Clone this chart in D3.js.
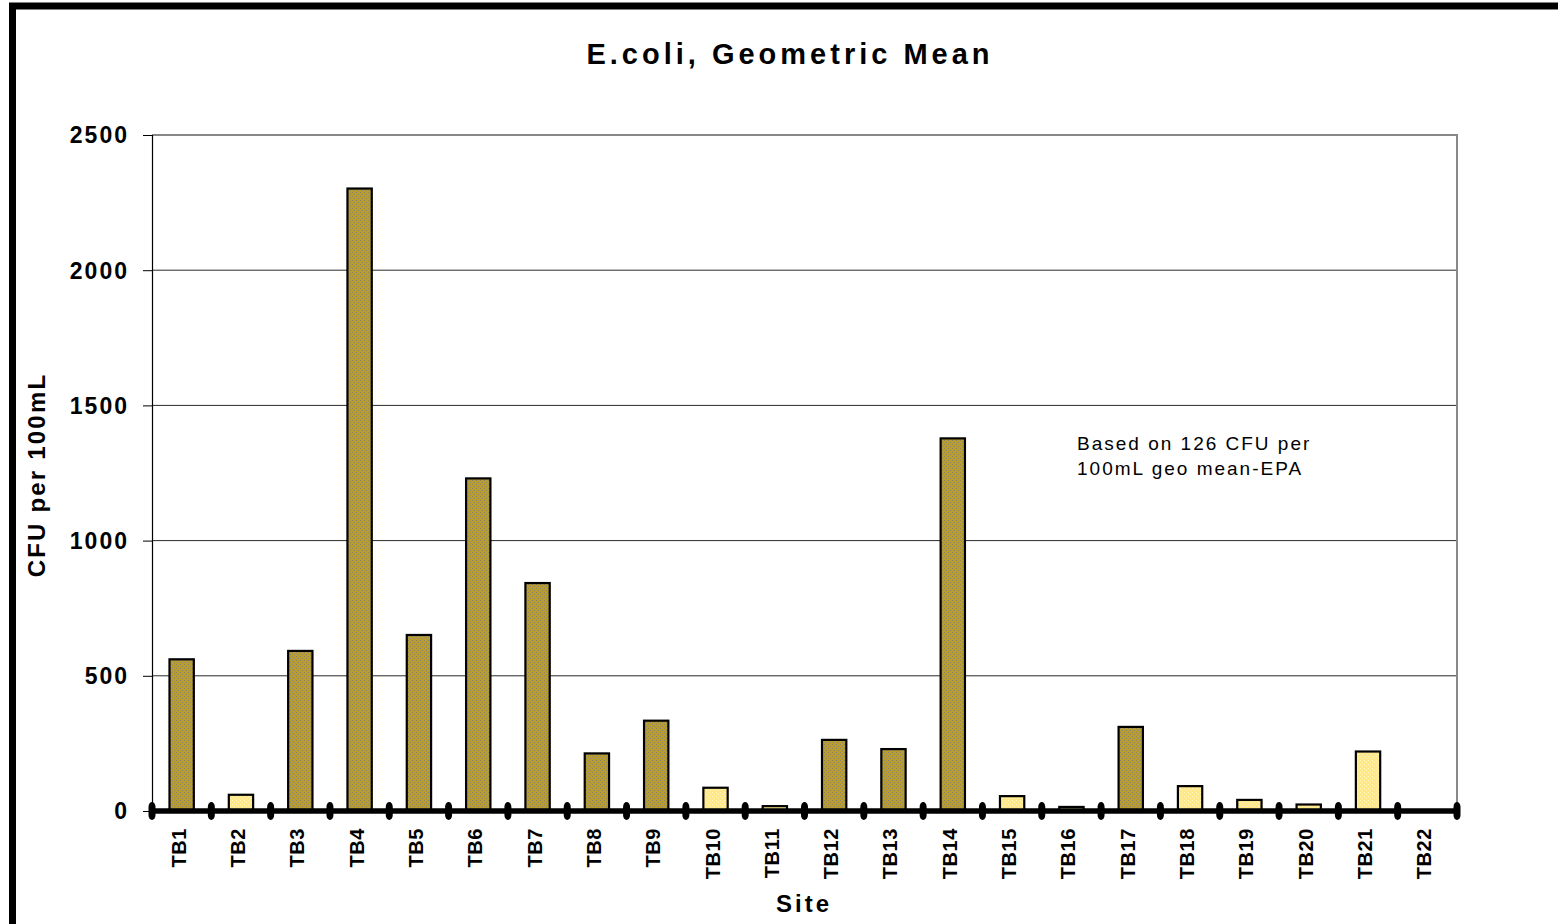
<!DOCTYPE html>
<html>
<head>
<meta charset="utf-8">
<script src="https://cdn.jsdelivr.net/npm/d3@7"></script>
<style>
  html, body { margin: 0; padding: 0; background: #fff; }
  svg { display: block; font-family: Arial, "Liberation Sans", sans-serif; }
</style>
</head>
<body>
<svg id="chart" width="1558" height="924"></svg>
<script>
// Sampling sites along the x axis
const sites = ["TB1","TB2","TB3","TB4","TB5","TB6","TB7","TB8","TB9","TB10","TB11",
               "TB12","TB13","TB14","TB15","TB16","TB17","TB18","TB19","TB20","TB21","TB22"];
// E. coli geometric mean, CFU per 100 mL (TB22 has no result)
const geoMeans = [561, 60, 592, 2302, 651, 1230, 843, 213, 334, 86, 18,
                  263, 229, 1378, 55, 15, 311, 92, 41, 24, 220, null];
// Whether a site exceeds the 126 CFU/100 mL EPA geometric mean criterion
const exceeds = [true, false, true, true, true, true, true, true, true, false, false,
                 true, true, true, false, false, true, false, false, false, false, false];
const yTicks = [0, 500, 1000, 1500, 2000, 2500];
const noteLines = ["Based on 126 CFU per", "100mL geo mean-EPA"];

const svg = d3.select("#chart");
const W = 1558, H = 924;
const plot = { left: 152, top: 135, right: 1457, bottom: 811 };

// Fill patterns for the two bar groups
const defs = svg.append("defs");
function dotPattern(id, base, dot) {
  const p = defs.append("pattern").attr("id", id)
    .attr("width", 4).attr("height", 4).attr("patternUnits", "userSpaceOnUse");
  p.append("rect").attr("width", 4).attr("height", 4).attr("fill", base);
  p.append("rect").attr("x", 0).attr("y", 0).attr("width", 1).attr("height", 1).attr("fill", dot);
  p.append("rect").attr("x", 2).attr("y", 2).attr("width", 1).attr("height", 1).attr("fill", dot);
}
dotPattern("darkFill", "#b89d2e", "#8c8670");
dotPattern("lightFill", "#ffe886", "#fff5c4");

// Outer frame
svg.append("rect").attr("x", 12.5).attr("y", 6).attr("width", W + 20).attr("height", H + 20)
  .attr("fill", "none").attr("stroke", "#000").attr("stroke-width", 7);

const x = d3.scaleBand().domain(sites).range([plot.left, plot.right]).paddingInner(0).paddingOuter(0);
const y = d3.scaleLinear().domain([0, 2500]).range([plot.bottom, plot.top]);

// Gridlines
svg.append("g").selectAll("line").data(yTicks.filter(t => t > 0 && t < 2500)).join("line")
  .attr("x1", plot.left).attr("x2", plot.right)
  .attr("y1", d => y(d)).attr("y2", d => y(d))
  .attr("stroke", "#2a2a2a").attr("stroke-width", 1);

// Plot-area border (top and right)
svg.append("path")
  .attr("d", `M${plot.left},${y(2500)}H${plot.right}V${plot.bottom}`)
  .attr("fill", "none").attr("stroke", "#888").attr("stroke-width", 2);

// Y axis
const yAxis = d3.axisLeft(y).tickValues(yTicks).tickSize(9).tickPadding(14).tickFormat(d3.format("d"));
const gy = svg.append("g").attr("transform", `translate(${plot.left},0)`).call(yAxis);
gy.select(".domain").attr("stroke", "#000").attr("stroke-width", 1.2);
gy.selectAll(".tick line").attr("stroke", "#000");
gy.selectAll("text").attr("font-size", 23).attr("font-weight", "bold")
  .attr("font-family", "Arial, 'Liberation Sans', sans-serif").attr("fill", "#000")
  .attr("letter-spacing", 2).attr("dy", "0.34em");

// Bars
const bw = x.bandwidth() * 0.41;
svg.append("g").selectAll("rect")
  .data(sites.map((s, i) => ({ s, v: geoMeans[i], hi: exceeds[i] })).filter(d => d.v != null))
  .join("rect")
  .attr("x", d => x(d.s) + (x.bandwidth() - bw) / 2)
  .attr("y", d => y(d.v))
  .attr("width", bw)
  .attr("height", d => y(0) - y(d.v))
  .attr("fill", d => d.hi ? "url(#darkFill)" : "url(#lightFill)")
  .attr("stroke", "#000").attr("stroke-width", 2.2);

// X axis: heavy base line with rounded category separators
svg.append("line").attr("x1", plot.left).attr("x2", plot.right)
  .attr("y1", y(0)).attr("y2", y(0)).attr("stroke", "#000").attr("stroke-width", 5.5);
const bounds = sites.map(s => x(s)).concat([plot.right]);
svg.append("g").selectAll("rect").data(bounds).join("rect")
  .attr("x", d => d - 3.5).attr("y", y(0) - 9).attr("width", 7).attr("height", 18)
  .attr("rx", 3.5).attr("ry", 5).attr("fill", "#000");

// Category labels, rotated
svg.append("g").selectAll("text").data(sites).join("text")
  .attr("transform", d => `translate(${x(d) + x.bandwidth() / 2 + 4},${plot.bottom + 17}) rotate(-90)`)
  .attr("text-anchor", "end")
  .attr("font-size", 20).attr("font-weight", "bold").attr("letter-spacing", 0.6)
  .text(d => d);

// Title
svg.append("text").attr("x", 790).attr("y", 64).attr("text-anchor", "middle")
  .attr("font-size", 29).attr("font-weight", "bold").attr("letter-spacing", 4)
  .text("E.coli, Geometric Mean");

// Axis titles
svg.append("text").attr("transform", "translate(45,475) rotate(-90)").attr("text-anchor", "middle")
  .attr("font-size", 24).attr("font-weight", "bold").attr("letter-spacing", 2.2)
  .text("CFU per 100mL");
svg.append("text").attr("x", 804).attr("y", 912).attr("text-anchor", "middle")
  .attr("font-size", 24).attr("font-weight", "bold").attr("letter-spacing", 3)
  .text("Site");

// EPA criterion note
svg.append("g").selectAll("text").data(noteLines).join("text")
  .attr("x", 1077).attr("y", (d, i) => 450 + i * 25)
  .attr("font-size", 19).attr("letter-spacing", 2)
  .text(d => d);
</script>
</body>
</html>
